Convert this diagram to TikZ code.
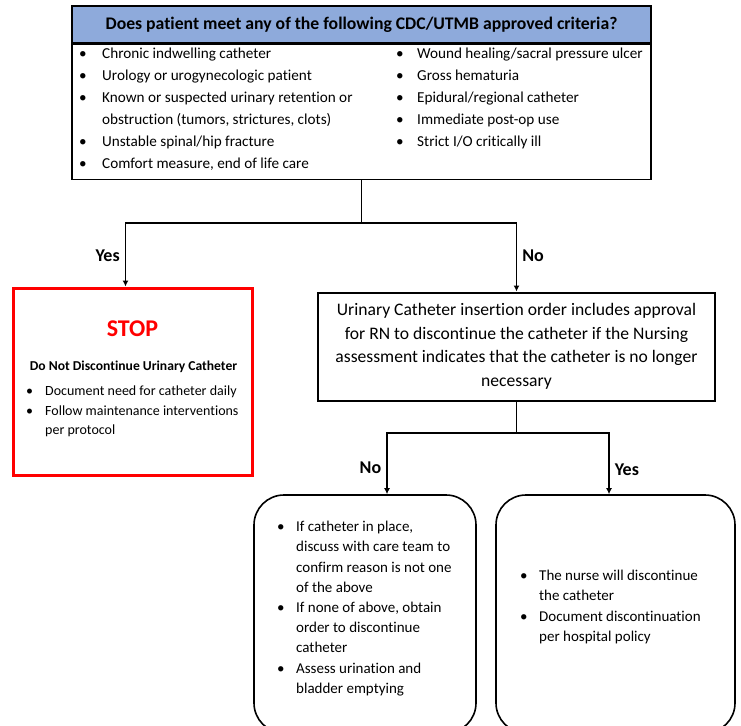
\documentclass[tikz,border=0pt]{standalone}
\usepackage{fontspec}
\setmainfont{Carlito}[Ligatures=CommonOff]
\usetikzlibrary{arrows.meta}
\definecolor{hdrblue}{RGB}{142,170,219}
\newcommand{\bul}[1][19pt]{\makebox[#1][l]{\textbullet}}
\newcommand{\ind}[1][19pt]{\hspace*{#1}}

\tikzset{
	frame/.style={draw, line width=1.6pt, inner sep=0pt},
	roundbox/.style={frame, rounded corners=30pt},
	conn/.style={line width=1.6pt},
	arrow/.style={conn, -{Latex[length=6pt,width=6pt]}},
	lbl/.style={font=\bfseries\fontsize{18}{20}\selectfont, inner sep=5pt},
	listtxt/.style={align=left, inner sep=0pt, anchor=north west},
}

\begin{document}
\begin{tikzpicture}[x=1pt, y=-1pt]
		%%%%% START %%%%%
		\clip (0,0) rectangle (741,725);
		
		% question box
		\node[frame, fill=hdrblue, minimum width=579, minimum height=37,
			font=\bfseries\fontsize{17.7}{20}\selectfont] (hdr) at (361.5,24.5)
			{Does patient meet any of the following CDC/UTMB approved criteria?};
		\node[frame, anchor=north, minimum width=579, minimum height=135] (crit) at (hdr.south) {};
		\node[listtxt, font=\fontsize{15.2}{22}\selectfont] (critL) at (79,48)
			{\bul[23pt]Chronic indwelling catheter\\
			 \bul[23pt]Urology or urogynecologic patient\\
			 \bul[23pt]Known or suspected urinary retention or\\
			 \ind[23pt]obstruction (tumors, strictures, clots)\\
			 \bul[23pt]Unstable spinal/hip fracture\\
			 \bul[23pt]Comfort measure, end of life care};
		\node[listtxt, font=\fontsize{15.2}{22}\selectfont] (critR) at (396,48)
			{\bul[21pt]Wound healing/sacral pressure ulcer\\
			 \bul[21pt]Gross hematuria\\
			 \bul[21pt]Epidural/regional catheter\\
			 \bul[21pt]Immediate post-op use\\
			 \bul[21pt]Strict I/O critically ill};
		
		% yes -> stop
		\node[frame, draw=red, line width=3pt, minimum width=239, minimum height=187] (stop) at (132.5,381.5) {};
		\node[text=red, font=\bfseries\fontsize{24}{28}\selectfont] (stopttl) at (132.5,329) {STOP};
		\node[font=\bfseries\fontsize{13.6}{16}\selectfont] (stopsub) at (133.5,367) {Do Not Discontinue Urinary Catheter};
		\node[listtxt, font=\fontsize{14}{19.5}\selectfont] (stoplist) at (26,386)
			{\bul Document need for catheter daily\\
			 \bul Follow maintenance interventions\\
			 \ind per protocol};
		
		% no -> order
		\node[frame, line width=2pt, minimum width=397, minimum height=108, align=center,
			font=\fontsize{17.6}{23.5}\selectfont] (ord) at (516.5,346.5)
			{Urinary Catheter insertion order includes approval\\
			 for RN to discontinue the catheter if the Nursing\\
			 assessment indicates that the catheter is no longer\\
			 necessary};
		
		% end boxes
		\node[roundbox, minimum width=222, minimum height=238] (nobox) at (365,614) {};
		\node[listtxt, font=\fontsize{15}{20.2}\selectfont] (nolist) at (277,521)
			{\bul If catheter in place,\\
			 \ind discuss with care team to\\
			 \ind confirm reason is not one\\
			 \ind of the above\\
			 \bul If none of above, obtain\\
			 \ind order to discontinue\\
			 \ind catheter\\
			 \bul Assess urination and\\
			 \ind bladder emptying};
		\node[roundbox, minimum width=239, minimum height=238] (yesbox) at (615.5,614) {};
		\node[listtxt, font=\fontsize{15}{20.2}\selectfont] (yeslist) at (520,570)
			{\bul The nurse will discontinue\\
			 \ind the catheter\\
			 \bul Document discontinuation\\
			 \ind per hospital policy};
		
		% connectors
		\coordinate (j1) at (crit.south |- 0,223);
		\draw[conn] (crit.south) -- (j1);
		\draw[arrow] (j1) -| node[lbl, pos=0.76, left] (yes1) {Yes} ([xshift=-7pt]stop.north);
		\draw[arrow] (j1) -| node[lbl, pos=0.74, right] (no1) {No} (ord.north);
		
		\coordinate (j2) at (ord.south |- 0,433);
		\draw[conn] (ord.south) -- (j2);
		\draw[arrow] (j2) -| node[lbl, pos=0.78, left] (no2) {No} ([xshift=22pt]nobox.north);
		\draw[arrow] (j2) -| node[lbl, pos=0.8, right] (yes2) {Yes} ([xshift=-6.5pt]yesbox.north);
		%%%%% END %%%%%
\end{tikzpicture}
\end{document}
